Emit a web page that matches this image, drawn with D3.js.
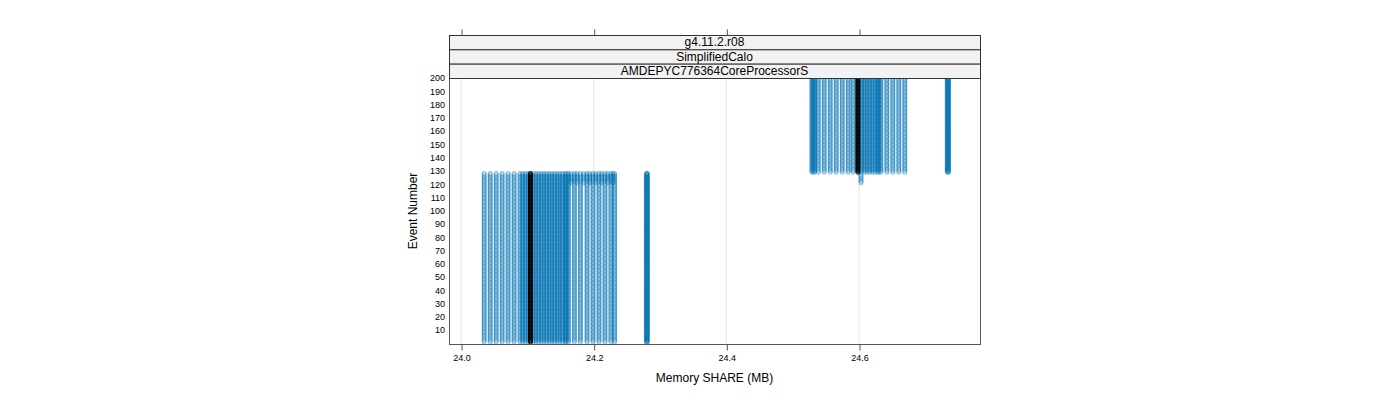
<!DOCTYPE html>
<html>
<head>
<meta charset="utf-8">
<script src="https://cdn.jsdelivr.net/npm/d3@7"></script>
<style>
  body { margin: 0; background: #fff; }
  text { font-family: "Liberation Sans", Arial, sans-serif; }
</style>
</head>
<body>
<svg></svg>
<script>
// chart values
const stripLabels = ['g4.11.2.r08', 'SimplifiedCalo', 'AMDEPYC776364CoreProcessorS']
const xTicks = [24.0, 24.2, 24.4, 24.6]
const yTicks = [10, 20, 30, 40, 50, 60, 70, 80, 90, 100, 110, 120, 130, 140, 150, 160, 170, 180, 190, 200]

// first block of events (1..128)
const events1 = [1, 128]
const pale1 = [24.035, 24.044, 24.053, 24.062, 24.071, 24.080, 24.089,
               24.162, 24.171, 24.180, 24.190, 24.199, 24.208, 24.217, 24.226, 24.2315]
const paleTop1 = [24.166, 24.175, 24.185, 24.194, 24.203, 24.212, 24.221, 24.229]
const paleTopEvents1 = [121, 128]
const dense1 = [24.093, 24.097, 24.101, 24.105, 24.109, 24.113, 24.117, 24.121, 24.125,
                24.129, 24.133, 24.137, 24.141, 24.145, 24.149, 24.153, 24.157, 24.159]
const outlier1 = [24.2795, 24.2803, 24.281]
const mark1 = 24.1047

// second block of events (129..200)
const events2 = [129, 200]
const pale2 = [24.5385, 24.5475, 24.5566, 24.5656, 24.5747, 24.5837, 24.5913,
               24.633, 24.642, 24.651, 24.660, 24.669]
const dense2 = [24.529, 24.531, 24.533, 24.600, 24.604, 24.608, 24.612, 24.616,
                24.620, 24.624, 24.628, 24.630]
const outlier2 = [24.733, 24.734, 24.735]
const extra2 = [24.603]
const extraEvents2 = [121, 127]
const mark2 = 24.5983

const width = 1400
const height = 400
const panel = { left: 449, right: 980, top: 78, bottom: 344 }
const stripTop = 35
const blue = '#0072b2'

let svg = d3.select('svg').attr('width', width).attr('height', height)

let xScale = d3.scaleLinear().domain([23.9819, 24.7824]).range([panel.left, panel.right])
let yScale = d3.scaleLinear().domain([-0.5, 200]).range([panel.bottom, panel.top])

function expand(xs, range, kind) {
    let out = []
    xs.forEach(x => {
        for (let e = range[0]; e <= range[1]; e++) out.push({ x: x, e: e, kind: kind })
    })
    return out
}

let points = [].concat(
    expand(pale1, events1, 'b'),
    expand(paleTop1, paleTopEvents1, 'b'),
    expand(dense1, events1, 'b'),
    expand(outlier1, events1, 'b'),
    expand(pale2, events2, 'b'),
    expand(dense2, events2, 'b'),
    expand(outlier2, events2, 'b'),
    expand(extra2, extraEvents2, 'b')
)
let marks = [].concat(expand([mark1], events1, 'k'), expand([mark2], events2, 'k'))

// grid
svg.append('g').selectAll('line')
    .data(xTicks).enter().append('line')
    .attr('x1', d => xScale(d)).attr('x2', d => xScale(d))
    .attr('y1', panel.top).attr('y2', panel.bottom)
    .attr('stroke', '#e6e6e6').attr('stroke-width', 1)

// points
svg.append('g').selectAll('circle')
    .data(points).enter().append('circle')
    .attr('cx', d => xScale(d.x))
    .attr('cy', d => yScale(d.e))
    .attr('r', 2.1)
    .attr('fill', 'none')
    .attr('stroke', blue)
    .attr('stroke-opacity', 0.45)
    .attr('stroke-width', 1)

svg.append('g').selectAll('circle')
    .data(marks).enter().append('circle')
    .attr('cx', d => xScale(d.x))
    .attr('cy', d => yScale(d.e))
    .attr('r', 2)
    .attr('fill', 'none')
    .attr('stroke', '#000')
    .attr('stroke-width', 1)

// panel border
svg.append('rect')
    .attr('x', panel.left + 0.5).attr('y', panel.top + 0.5)
    .attr('width', panel.right - panel.left).attr('height', panel.bottom - panel.top)
    .attr('fill', 'none').attr('stroke', '#555')

// strips
let stripH = (panel.top - stripTop) / stripLabels.length
stripLabels.forEach((lab, i) => {
    let y0 = stripTop + i * stripH
    svg.append('rect')
        .attr('x', panel.left + 0.5).attr('y', y0 + 0.5)
        .attr('width', panel.right - panel.left).attr('height', stripH)
        .attr('fill', '#f2f2f2').attr('stroke', '#333')
    svg.append('text')
        .attr('x', (panel.left + panel.right) / 2).attr('y', y0 + stripH / 2 + 4)
        .attr('text-anchor', 'middle').attr('font-size', 12).attr('fill', '#000')
        .text(lab)
})

// x axis bottom
let xAxis = d3.axisBottom(xScale).tickValues(xTicks).tickFormat(d3.format('.1f')).tickSize(6).tickPadding(4)
let gx = svg.append('g').attr('transform', 'translate(0.5,' + (panel.bottom + 0.5) + ')').call(xAxis)
gx.select('.domain').remove()
gx.selectAll('line').attr('stroke', '#555')
gx.selectAll('text').attr('font-size', 9).attr('fill', '#000')

// x axis top (ticks only)
let xAxisTop = d3.axisTop(xScale).tickValues(xTicks).tickFormat('').tickSize(6)
let gt = svg.append('g').attr('transform', 'translate(0.5,' + (stripTop + 0.5) + ')').call(xAxisTop)
gt.select('.domain').remove()
gt.selectAll('line').attr('stroke', '#555')

// y axis labels
let yAxis = d3.axisLeft(yScale).tickValues(yTicks).tickSize(0).tickPadding(4)
let gy = svg.append('g').attr('transform', 'translate(' + panel.left + ',0)').call(yAxis)
gy.select('.domain').remove()
gy.selectAll('text').attr('font-size', 9).attr('fill', '#000')

// titles
svg.append('text')
    .attr('x', (panel.left + panel.right) / 2).attr('y', 382)
    .attr('text-anchor', 'middle').attr('font-size', 12)
    .text('Memory SHARE (MB)')
svg.append('text')
    .attr('transform', 'translate(417,' + ((panel.top + panel.bottom) / 2) + ') rotate(-90)')
    .attr('text-anchor', 'middle').attr('font-size', 12)
    .text('Event Number')
</script>
</body>
</html>
